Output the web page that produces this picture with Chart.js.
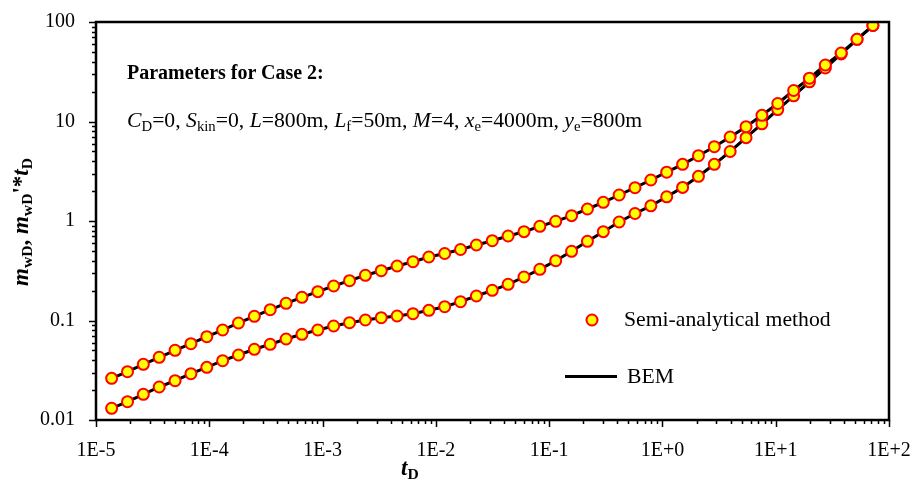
<!DOCTYPE html>
<html>
<head>
<meta charset="utf-8">
<script src="https://cdn.jsdelivr.net/npm/chart.js@4.4.0/dist/chart.umd.min.js"></script>
<style>
  body { margin: 0; background: #fff; }
  #wrap { position: relative; width: 912px; height: 490px; }
  .txt { position: absolute; font-family: "Liberation Serif", "Times New Roman", serif; color: #000; white-space: nowrap; line-height: 1; }
  .txt sub { font-size: 68%; vertical-align: -0.28em; font-style: normal; }
  .it { font-style: italic; }
</style>
</head>
<body>
<div id="wrap">
  <canvas id="chart" width="912" height="490"></canvas>

  <div class="txt" style="left:127px; top:62px; font-size:20px; font-weight:bold;">Parameters for Case 2:</div>
  <div class="txt" style="left:127px; top:110px; font-size:21.7px;">
    <span class="it">C</span><sub>D</sub>=0, <span class="it">S</span><sub>kin</sub>=0, <span class="it">L</span>=800m, <span class="it">L</span><sub>f</sub>=50m, <span class="it">M</span>=4, <span class="it">x</span><sub>e</sub>=4000m, <span class="it">y</span><sub>e</sub>=800m
  </div>

  <div class="txt" style="left:624px; top:309px; font-size:21.7px;">Semi-analytical method</div>
  <div class="txt" style="left:627px; top:366px; font-size:21.7px;">BEM</div>

  <div class="txt" style="left:22px; top:222px; font-size:23px; font-weight:bold; transform: translate(-50%, -50%) rotate(-90deg);">
    <span class="it">m</span><sub>wD</sub>, <span class="it">m</span><sub>wD</sub>'*<span class="it">t</span><sub>D</sub>
  </div>
  <div class="txt" style="left:401px; top:456px; font-size:23px; font-weight:bold;">
    <span class="it">t</span><sub>D</sub>
  </div>
</div>

<script>
// dimensionless time
const tD = [
  1.374e-5, 1.897e-5, 2.618e-5, 3.614e-5, 4.989e-5, 6.887e-5, 9.506e-5,
  1.312e-4, 1.811e-4, 2.500e-4, 3.451e-4, 4.764e-4, 6.577e-4, 9.078e-4,
  1.253e-3, 1.730e-3, 2.388e-3, 3.296e-3, 4.550e-3, 6.281e-3, 8.670e-3,
  1.197e-2, 1.652e-2, 2.280e-2, 3.148e-2, 4.345e-2, 5.998e-2, 8.279e-2,
  0.1143, 0.1578, 0.2178, 0.3006, 0.4150, 0.5728, 0.7907,
  1.091, 1.507, 2.080, 2.871, 3.963, 5.470, 7.551,
  10.42, 14.39, 19.86, 27.42, 37.84, 52.24, 72.11
];

// m_wD (upper curve)
const mwD = [
  0.02624, 0.03057, 0.03629, 0.04269, 0.05018, 0.05846, 0.06874,
  0.08024, 0.09439, 0.1102, 0.1284, 0.1489, 0.1711, 0.1948,
  0.2222, 0.2512, 0.2847, 0.3166, 0.3529, 0.3899, 0.4347,
  0.4714, 0.5171, 0.5737, 0.6339, 0.7066, 0.7808, 0.8845,
  0.9931, 1.131, 1.320, 1.542, 1.825, 2.161, 2.583,
  3.094, 3.713, 4.532, 5.581, 6.986, 8.867, 11.54,
  15.17, 20.49, 27.24, 36.97, 48.80, 67.00, 92.2
];

// m_wD' * t_D (lower curve)
const dmwD = [
  0.01311, 0.01527, 0.01813, 0.02146, 0.02483, 0.02919, 0.03385,
  0.03945, 0.04501, 0.05136, 0.05766, 0.06518, 0.07265, 0.08024,
  0.08805, 0.09504, 0.1012, 0.1067, 0.1110, 0.1170, 0.1266,
  0.1376, 0.1545, 0.1763, 0.2012, 0.2311, 0.2737, 0.3270,
  0.3990, 0.4960, 0.6252, 0.7808, 0.9770, 1.190, 1.421,
  1.751, 2.176, 2.813, 3.713, 4.995, 6.875, 9.482,
  13.17, 18.13, 25.06, 34.49, 47.69, 67.00, 92.2
];

const xTickValues = [1e-5, 1e-4, 1e-3, 1e-2, 1e-1, 1, 10, 100];
const xTickLabels = ["1E-5", "1E-4", "1E-3", "1E-2", "1E-1", "1E+0", "1E+1", "1E+2"];
const yTickValues = [0.01, 0.1, 1, 10, 100];
const yTickLabels = ["0.01", "0.1", "1", "10", "100"];

function pts(ys) {
  return tD.map((t, i) => ({ x: t, y: ys[i] }));
}

// ticks (major + minor), frame box and legend symbols
const frameTicks = {
  id: "frameTicks",
  afterDraw(chart) {
    let ctx = chart.ctx;
    let a = chart.chartArea;
    let xs = chart.scales.x;
    let ys = chart.scales.y;
    ctx.save();
    ctx.strokeStyle = "#000";
    ctx.lineWidth = 1.5;
    ctx.beginPath();
    for (let e = -5; e <= 2; e++) {
      for (let m = 1; m <= 9; m++) {
        let v = m * Math.pow(10, e);
        if (v > 100.0001) break;
        let px = Math.round(xs.getPixelForValue(v)) + 0.5;
        let len = m === 1 ? 7 : 4;
        ctx.moveTo(px, a.bottom);
        ctx.lineTo(px, a.bottom + len);
      }
    }
    for (let e = -2; e <= 2; e++) {
      for (let m = 1; m <= 9; m++) {
        let v = m * Math.pow(10, e);
        if (v > 100.0001) break;
        let py = Math.round(ys.getPixelForValue(v)) + 0.5;
        let len = m === 1 ? 7 : 4;
        ctx.moveTo(a.left, py);
        ctx.lineTo(a.left - len, py);
      }
    }
    ctx.stroke();
    ctx.lineWidth = 2.5;
    ctx.strokeRect(a.left, a.top, a.right - a.left, a.bottom - a.top);

    ctx.beginPath();
    ctx.arc(592, 320, 5.5, 0, Math.PI * 2);
    ctx.fillStyle = "#ffff00";
    ctx.fill();
    ctx.lineWidth = 2;
    ctx.strokeStyle = "#ff0000";
    ctx.stroke();
    ctx.beginPath();
    ctx.moveTo(565, 376.5);
    ctx.lineTo(617, 376.5);
    ctx.lineWidth = 3;
    ctx.strokeStyle = "#000";
    ctx.stroke();
    ctx.restore();
  }
};

const markerStyle = {
  showLine: false,
  pointRadius: 5.5,
  pointBackgroundColor: "#ffff00",
  pointBorderColor: "#ff0000",
  pointBorderWidth: 2,
  order: 0
};

const lineStyle = {
  showLine: true,
  pointRadius: 0,
  borderColor: "#000",
  borderWidth: 3,
  order: 1
};

new Chart(document.getElementById("chart"), {
  type: "scatter",
  data: {
    datasets: [
      Object.assign({ label: "Semi-analytical method", data: pts(mwD) }, markerStyle),
      Object.assign({ label: "Semi-analytical method", data: pts(dmwD) }, markerStyle),
      Object.assign({ label: "BEM", data: pts(mwD) }, lineStyle),
      Object.assign({ label: "BEM", data: pts(dmwD) }, lineStyle)
    ]
  },
  options: {
    responsive: false,
    animation: false,
    layout: { padding: { top: 22, right: 23, left: 0, bottom: 0 } },
    plugins: { legend: { display: false }, tooltip: { enabled: false } },
    scales: {
      x: {
        type: "logarithmic",
        min: 1e-5,
        max: 100,
        afterBuildTicks: s => { s.ticks = xTickValues.map(v => ({ value: v })); },
        afterFit: s => { s.height = 70; s.paddingLeft = 0; s.paddingRight = 0; },
        grid: { display: false },
        border: { display: false },
        ticks: {
          callback: (v, i) => xTickLabels[i],
          font: { family: "Liberation Serif", size: 20 },
          color: "#000",
          padding: 11,
          maxRotation: 0,
          autoSkip: false
        }
      },
      y: {
        type: "logarithmic",
        min: 0.01,
        max: 100,
        afterBuildTicks: s => { s.ticks = yTickValues.map(v => ({ value: v })); },
        afterFit: s => { s.width = 96; s.paddingTop = 0; s.paddingBottom = 0; },
        grid: { display: false },
        border: { display: false },
        ticks: {
          callback: (v, i) => yTickLabels[i],
          font: { family: "Liberation Serif", size: 20 },
          color: "#000",
          padding: 13,
          autoSkip: false
        }
      }
    }
  },
  plugins: [frameTicks]
});
</script>
</body>
</html>
